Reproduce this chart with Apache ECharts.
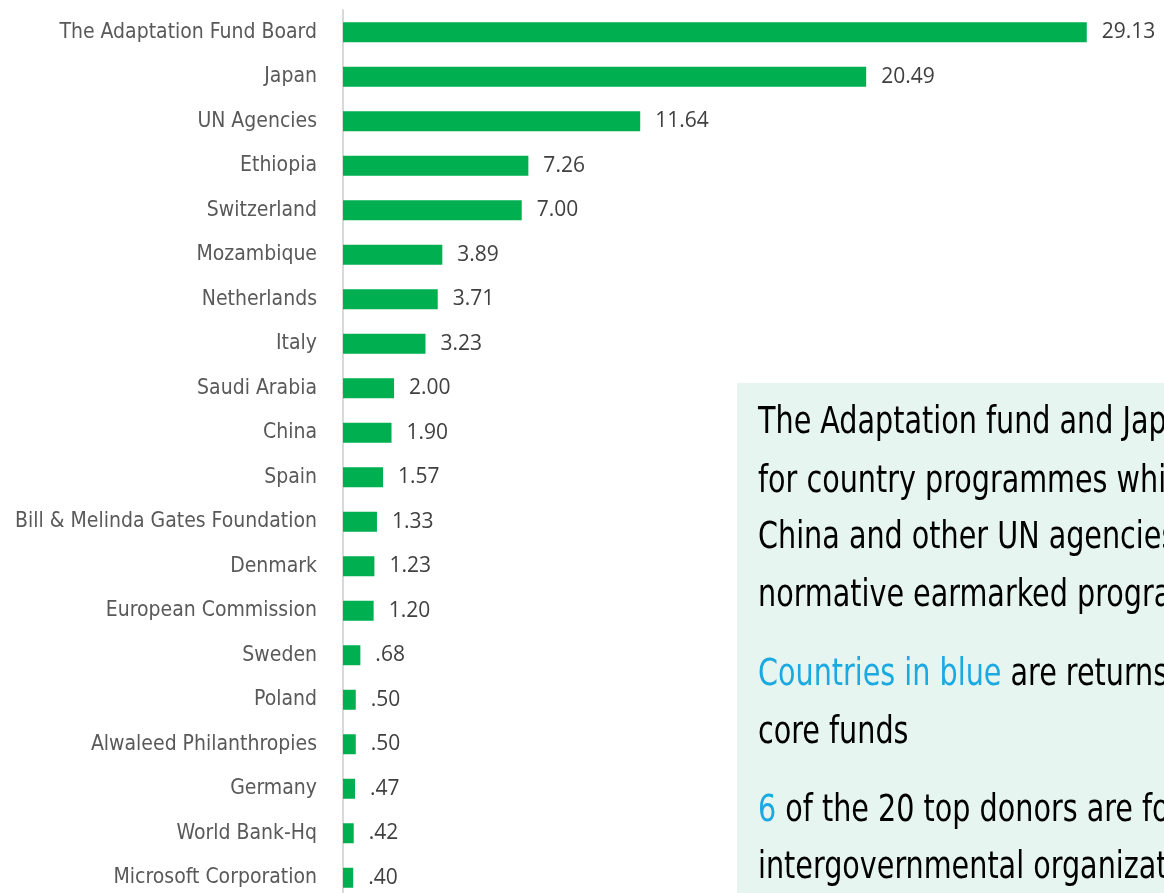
<!DOCTYPE html>
<html>
<head>
<meta charset="utf-8">
<title>Top donors</title>
<script src="https://cdn.jsdelivr.net/npm/echarts@6/dist/echarts.min.js"></script>
<style>
  html, body { margin: 0; padding: 0; background: #fff; }
  #chart { width: 1164px; height: 893px; }
</style>
</head>
<body>
<div id="chart"></div>
<script>
// donors, largest first
const donors = [
  'The Adaptation Fund Board', 'Japan', 'UN Agencies', 'Ethiopia', 'Switzerland',
  'Mozambique', 'Netherlands', 'Italy', 'Saudi Arabia', 'China', 'Spain',
  'Bill & Melinda Gates Foundation', 'Denmark', 'European Commission', 'Sweden',
  'Poland', 'Alwaleed Philanthropies', 'Germany', 'World Bank-Hq', 'Microsoft Corporation'
];
const amounts = [
  29.13, 20.49, 11.64, 7.26, 7.00, 3.89, 3.71, 3.23, 2.00, 1.90, 1.57,
  1.33, 1.23, 1.20, 0.68, 0.50, 0.50, 0.47, 0.42, 0.40
];

const noteLines = [
  [{ t: 'The Adaptation fund and Japan are major donors' }],
  [{ t: 'for country programmes while' }],
  [{ t: 'China and other UN agencies fund' }],
  [{ t: 'normative earmarked programmes' }],
  [{ t: 'Countries in blue', blue: true }, { t: ' are returns of' }],
  [{ t: 'core funds' }],
  [{ t: '6', blue: true }, { t: ' of the 20 top donors are foundations or' }],
  [{ t: 'intergovernmental organizations' }]
];
const noteY = [423, 482, 538, 596, 675, 733, 811, 868];

const narrow = '"Liberation Sans Narrow", "DejaVu Sans Condensed", "Roboto Condensed", sans-serif';

function fmt(v) {
  const s = v.toFixed(2);
  return v < 1 ? s.slice(1) : s;
}

const chart = echarts.init(document.getElementById('chart'));

// the note font is squeezed horizontally to look like the narrow original
const noteText = noteLines.map((parts, i) => ({
  type: 'text',
  x: 758,
  y: noteY[i],
  scaleX: 0.86,
  z: 10,
  style: {
    text: parts.map(p => '{' + (p.blue ? 'b' : 'k') + '|' + p.t + '}').join(''),
    verticalAlign: 'middle',
    rich: {
      k: { fill: '#000000', fontSize: 37, fontFamily: narrow },
      b: { fill: '#1ba9e1', fontSize: 37, fontFamily: narrow }
    }
  }
}));

chart.setOption({
  animation: false,
  grid: {
    left: 343, top: 10, width: 766, height: 890,
    containLabel: false,
    outerBoundsMode: 'none'
  },
  xAxis: {
    type: 'value',
    min: 0,
    max: 30,
    show: false
  },
  yAxis: {
    type: 'category',
    inverse: true,
    data: donors,
    axisTick: { show: false },
    axisLine: { lineStyle: { color: '#d9d9d9', width: 2 } },
    axisLabel: {
      margin: 26,
      color: '#595959',
      fontSize: 21,
      fontFamily: narrow
    }
  },
  series: [{
    type: 'bar',
    data: amounts,
    barWidth: 20,
    itemStyle: { color: '#00b050' },
    label: {
      show: true,
      position: 'right',
      distance: 15,
      color: '#404040',
      fontSize: 21,
      fontFamily: '"Open Sans", sans-serif',
      formatter: p => fmt(p.value)
    }
  }],
  graphic: [{
    type: 'rect',
    shape: { x: 737, y: 383, width: 440, height: 520 },
    style: { fill: '#e6f5f0' },
    z: 5
  }].concat(noteText)
});
</script>
</body>
</html>
